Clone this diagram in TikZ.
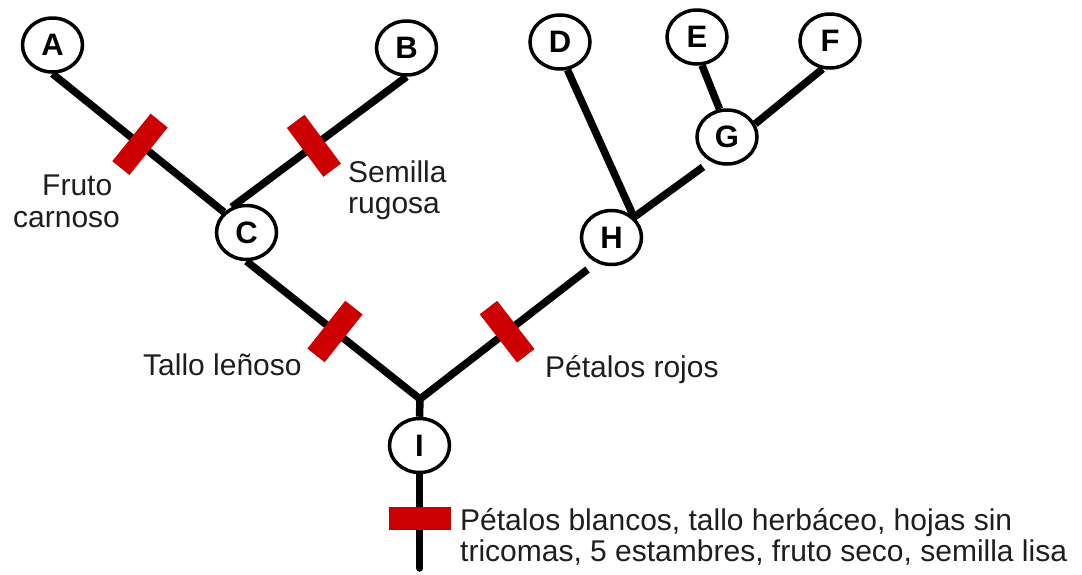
\documentclass[tikz,border=0pt]{standalone}
\usepackage{fontspec}
\setmainfont{Liberation Sans}
\usetikzlibrary{shapes.geometric,calc}
\pgfdeclarelayer{background}
\pgfsetlayers{background,main}
\definecolor{mark}{RGB}{204,0,0}
\definecolor{labelgray}{RGB}{30,30,30}
\tikzset{
  taxon/.style={ellipse, draw=black, line width=3.5pt, fill=white,
    minimum width=60pt, minimum height=54pt, inner sep=0pt,
    font=\fontsize{31}{31}\selectfont\bfseries},
  branch/.style={draw=black, line width=7.5pt, line join=round},
  trait/.style={rectangle, fill=mark, sloped, inner sep=0pt,
    minimum width=22pt, minimum height=61pt},
  roottrait/.style={rectangle, fill=mark, inner sep=0pt,
    minimum width=62pt, minimum height=23pt},
  lbl/.style={inner sep=0pt, text=labelgray,
    font=\fontsize{30}{31}\selectfont}
}
\begin{document}
\begin{tikzpicture}[x=1pt, y=-1pt]
\useasboundingbox (0,0) rectangle (1082,574);

% taxa and internal nodes
\node[taxon] (A) at (52.5,45) {A};
\node[taxon] (B) at (406.5,48) {B};
\node[taxon] (C) at (246.5,232.5) {C};
\node[taxon] (D) at (560,42) {D};
\node[taxon] (E) at (697,37) {E};
\node[taxon] (F) at (830,41) {F};
\node[taxon] (G) at (727,137) {G};
\node[taxon] (H) at (611.5,237.5) {H};
\node[taxon] (I) at (419.5,445.5) {I};

% free ends of branches
\coordinate (J) at (420,399);
\coordinate (Hlow) at ($(H)+(-24,32)$);
\coordinate (Glow) at ($(G)+(-24,30)$);
\coordinate (root) at (419.5,568);

\begin{pgfonlayer}{background}
  \draw[branch] (A.south) -- node[trait, pos=0.51] {} (C.north west);
  \draw[branch] (B.south) -- node[trait, pos=0.53] {} (C.120);
  \draw[branch] (C.south) -- node[trait, pos=0.51] {} (J)
                -- node[trait, pos=0.52] {} (Hlow);
  \draw[branch] (J) -- (I.north);
  \draw[branch, line cap=round] (I.south) -- node[roottrait, pos=0.474] {} (root);
  \draw[branch] (D.285) -- (H.north east);
  \draw[branch] (H.north east) -- (Glow);
  \draw[branch] (E.280) -- (G.105);
  \draw[branch] (F.255) -- (G.25);
\end{pgfonlayer}

% character labels
\node[lbl, anchor=base west] (l1a) at (42,195) {Fruto};
\node[lbl, anchor=base west] (l1b) at (13,227) {carnoso};
\node[lbl, anchor=base west] (l2a) at (348,182) {Semilla};
\node[lbl, anchor=base west] (l2b) at (348,213) {rugosa};
\node[lbl, anchor=base west] (l3) at (143,375) {Tallo leñoso};
\node[lbl, anchor=base west] (l4) at (545,377) {Pétalos rojos};
\node[lbl, anchor=base west] (l5a) at (460,530) {Pétalos blancos, tallo herbáceo, hojas sin};
\node[lbl, anchor=base west] (l5b) at (460,561) {tricomas, 5 estambres, fruto seco, semilla lisa};
\end{tikzpicture}
\end{document}
